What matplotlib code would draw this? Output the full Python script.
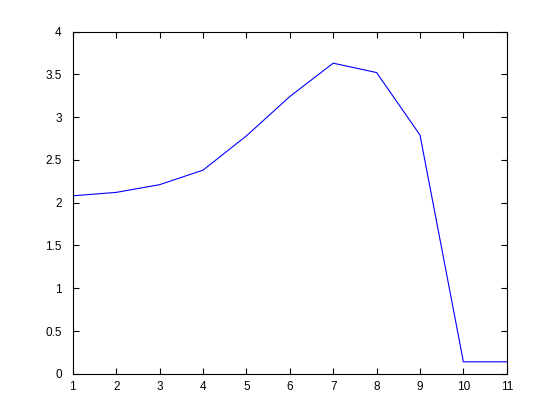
import matplotlib
matplotlib.use("Agg")
import matplotlib.pyplot as plt

x = [1, 2, 3, 4, 5, 6, 7, 8, 9, 10, 11]
y = [2.08, 2.12, 2.21, 2.38, 2.78, 3.24, 3.63, 3.52, 2.79, 0.14, 0.14]

plt.rcParams['font.family'] = ['Liberation Sans', 'DejaVu Sans']

fig = plt.figure(figsize=(5.6, 4.2), dpi=100)
ax = fig.add_axes([0.13, 0.11, 0.775, 0.815])
ax.plot(x, y, color='blue', linewidth=0.8)

ax.set_xlim(1, 11)
ax.set_ylim(0, 4)
ax.set_xticks(range(1, 12))
ax.set_yticks([0, 0.5, 1, 1.5, 2, 2.5, 3, 3.5, 4])
ax.set_yticklabels(['0', '0.5', '1', '1.5', '2', '2.5', '3', '3.5', '4'])
ax.tick_params(direction='in', length=4, width=0.8, labelsize=8.5,
               top=True, right=True)
ax.tick_params(axis='y', pad=8)
ax.tick_params(axis='x', pad=5)
for s in ax.spines.values():
    s.set_linewidth(0.8)

fig.savefig('out.png', dpi=100)
